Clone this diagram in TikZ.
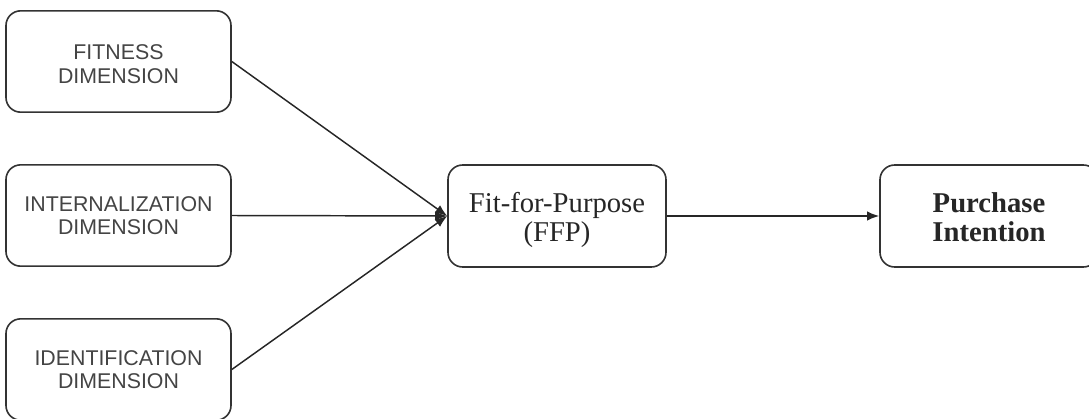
\documentclass[tikz,border=0pt]{standalone}
\usepackage{fontspec}
\setmainfont{Liberation Serif}
\setsansfont{Liberation Sans}
\usetikzlibrary{arrows.meta}
\definecolor{boxline}{HTML}{333333}
\definecolor{sanstext}{HTML}{444444}
\newcommand{\topstrut}[1]{\rule{0pt}{#1}}
\tikzset{
  dimbox/.style={draw=boxline, line width=1.2pt, rounded corners=11pt, minimum width=168.75pt, minimum height=76pt, align=center, font=\sffamily\fontsize{16}{17.5}\selectfont, text=sanstext, inner sep=0pt},
  mainbox/.style={draw=boxline, line width=1.2pt, rounded corners=11pt, minimum width=163.5pt, minimum height=76.5pt, align=center, font=\fontsize{21.5}{22}\selectfont, text=black!85, inner sep=0pt},
  conn/.style={line width=1.1pt, black!85, -{Latex[length=9pt,width=7pt]}}
}
\begin{document}
\begin{tikzpicture}[x=0.75pt,y=-0.75pt]
\useasboundingbox (0,0) rectangle (1089,418);
\node[dimbox] (fit) at (118.5,61.5) {\topstrut{15pt}FITNESS\\DIMENSION};
\node[dimbox] (int) at (118.5,215.5) {INTERNALIZATION\\DIMENSION};
\node[dimbox] (ide) at (118.5,369.5) {IDENTIFICATION\\DIMENSION};
\node[mainbox] (ffp) at (557,216) {\topstrut{21pt}Fit-for-Purpose\\(FFP)};
\node[mainbox, font=\bfseries\fontsize{21.5}{22}\selectfont] (pi) at (989,216) {\topstrut{17pt}Purchase\\Intention};
\draw[conn] (fit.east) -- (ffp.west);
\draw[conn] (int.east) -- (ffp.west);
\draw[conn] (ide.east) -- (ffp.west);
\draw[conn] (ffp.east) -- (pi.west);
\end{tikzpicture}
\end{document}
